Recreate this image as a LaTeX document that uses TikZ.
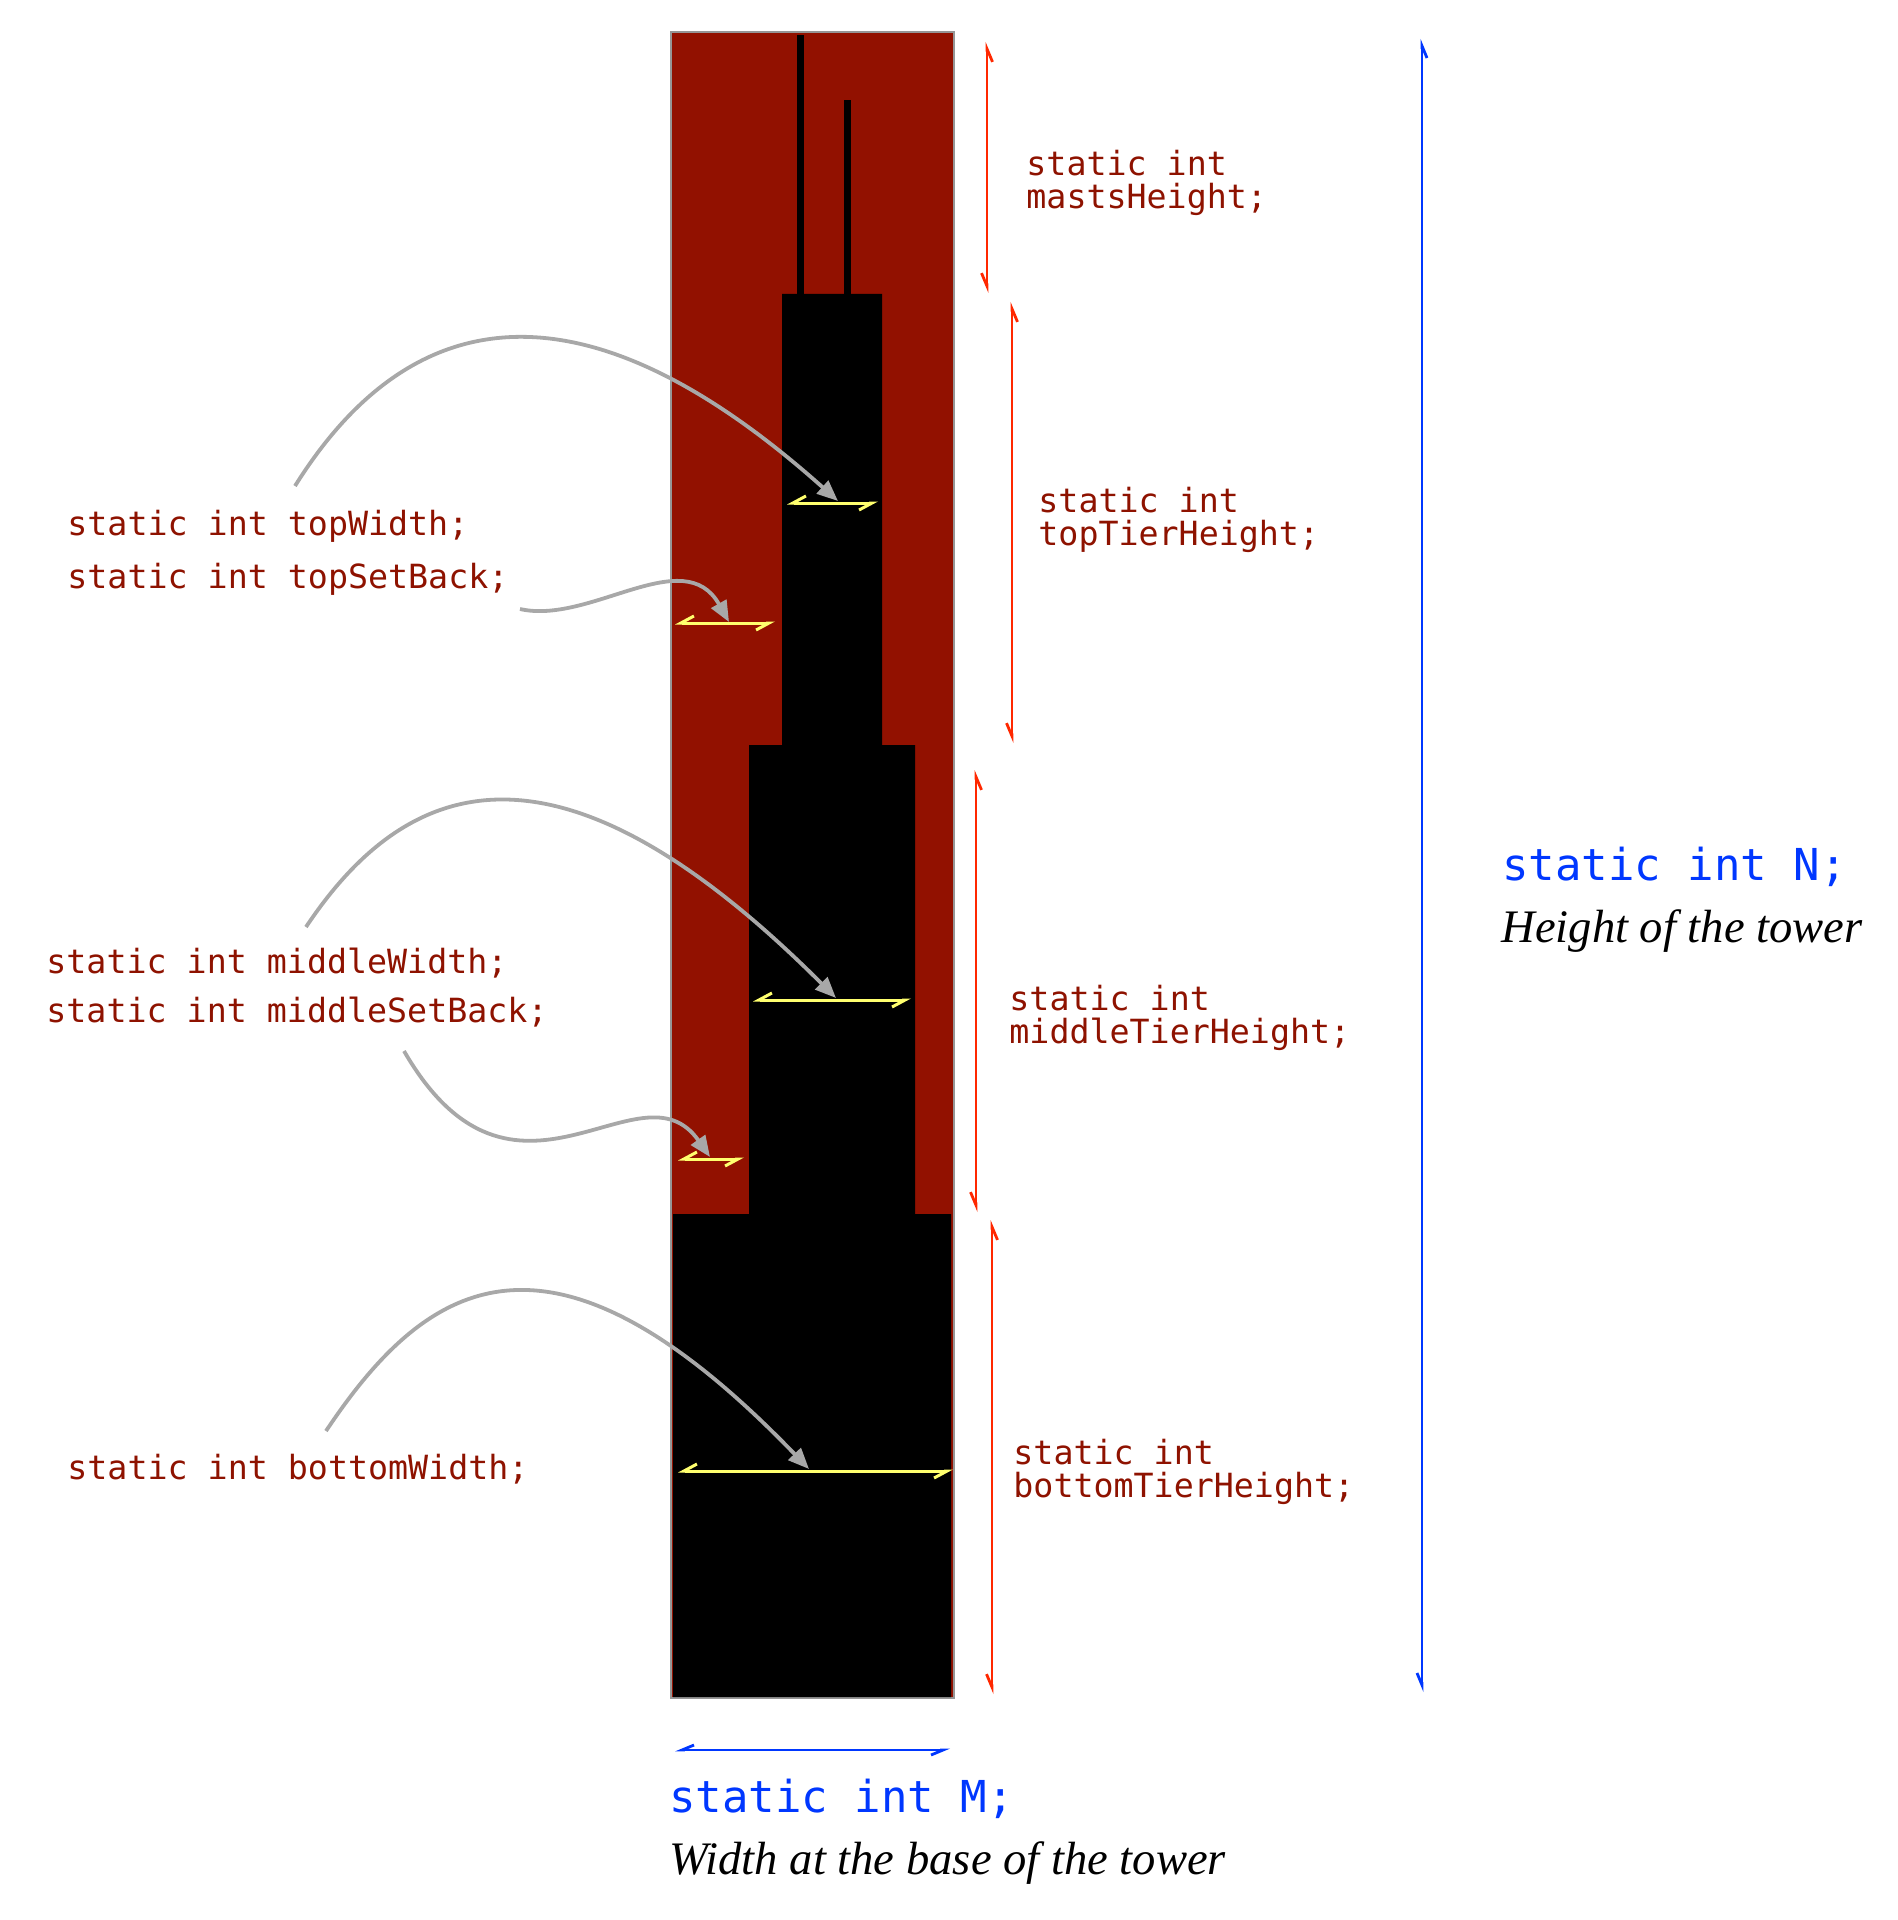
\documentclass[tikz,border=0pt]{standalone}
\usepackage{fontspec}
\setmonofont{DejaVu Sans Mono}
\newfontfamily\notefont{Liberation Serif}
\usetikzlibrary{arrows.meta}

\definecolor{codered}{RGB}{142,18,0}
\definecolor{skyline}{RGB}{146,17,0}
\definecolor{dimred}{RGB}{255,40,0}
\definecolor{dimblue}{RGB}{0,55,255}
\definecolor{markyellow}{RGB}{255,255,110}
\definecolor{pointgray}{RGB}{168,168,168}
\definecolor{framegray}{RGB}{150,150,150}

\begin{document}
\begin{tikzpicture}[x=0.5pt, y=-0.5pt,
    codetext/.style={font=\ttfamily\fontsize{16.65}{16.5}\selectfont, text=codered,
      inner sep=0pt, anchor=base west, align=left},
    bigcode/.style={font=\ttfamily\fontsize{22}{22}\selectfont, text=dimblue,
      inner sep=0pt, anchor=base west},
    note/.style={font=\notefont\itshape\fontsize{23.3}{23.3}\selectfont,
      inner sep=0pt, anchor=base west},
    tierdim/.style={draw=dimred, line width=1.4pt, <->,
      >={Straight Barb[right, length=6.5pt, width=5.5pt]}},
    towerdim/.style={draw=dimblue, line width=1.4pt, <->,
      >={Straight Barb[right, length=6pt, width=5pt]}},
    widthdim/.style={draw=markyellow, line width=1.5pt, <->,
      >={Straight Barb[right, length=6.5pt, width=7pt]}},
    pointer/.style={draw=pointgray, line width=1.9pt,
      -{Triangle[length=10.5pt, width=8.5pt]}}]

  \useasboundingbox (0,0) rectangle (1898,1920);

  % Tower panel
  \draw[framegray, line width=1pt, fill=skyline] (671,32) rectangle (954,1698);
  \fill (673,1697) -- (673,1214) -- (749,1214) -- (749,745) -- (782,745) -- (782,294)
    -- (882,294) -- (882,745) -- (915,745) -- (915,1214) -- (951,1214) -- (951,1697) -- cycle;
  \fill (797,35) rectangle (804,294);
  \fill (844,100) rectangle (851,294);

  % Define nodes
  \node[codetext] (topWidth)         at (67,535)   {static int topWidth;};
  \node[codetext] (topSetBack)       at (67,588)   {static int topSetBack;};
  \node[codetext] (middleWidth)      at (46,973)   {static int middleWidth;};
  \node[codetext] (middleSetBack)    at (46,1022)  {static int middleSetBack;};
  \node[codetext] (bottomWidth)      at (67,1479)  {static int bottomWidth;};

  \node[codetext] (mastsHeight)      at (1026,209)  {static int\\mastsHeight;};
  \node[codetext] (topTierHeight)    at (1038,545)  {static int\\topTierHeight;};
  \node[codetext] (middleTierHeight) at (1009,1043) {static int\\middleTierHeight;};
  \node[codetext] (bottomTierHeight) at (1013,1497) {static int\\bottomTierHeight;};

  \node[bigcode] (towerN)     at (1502,880)  {static int N;};
  \node[note]    (heightNote) at (1501,942)  {Height of the tower};
  \node[bigcode] (baseM)      at (669,1812)  {static int M;};
  \node[note]    (widthNote)  at (669,1874)  {Width at the base of the tower};

  % Dimension ends
  \coordinate (mastTop) at (987,42);    \coordinate (mastBot) at (987,293);
  \coordinate (topTop)  at (1012,302);  \coordinate (topBot)  at (1012,743);
  \coordinate (midTop)  at (976,770);   \coordinate (midBot)  at (976,1212);
  \coordinate (botTop)  at (992,1220);  \coordinate (botBot)  at (992,1694);
  \coordinate (nTop)    at (1422,39);   \coordinate (nBot)    at (1422,1692);
  \coordinate (mLeft)   at (675,1750);  \coordinate (mRight)  at (950,1750);

  \coordinate (twL) at (787,503);  \coordinate (twR) at (878,503);
  \coordinate (tsL) at (675,623);  \coordinate (tsR) at (775,623);
  \coordinate (mwL) at (753,1000); \coordinate (mwR) at (911,1000);
  \coordinate (msL) at (678,1159); \coordinate (msR) at (744,1159);
  \coordinate (bwL) at (678,1471); \coordinate (bwR) at (953,1471);

  \coordinate (twFrom) at (295,486);  \coordinate (twTo) at (838,501);
  \coordinate (tsFrom) at (520,609);  \coordinate (tsTo) at (729,622);
  \coordinate (mwFrom) at (306,927);  \coordinate (mwTo) at (836,998);
  \coordinate (msFrom) at (404,1051); \coordinate (msTo) at (710,1157);
  \coordinate (bwFrom) at (326,1431); \coordinate (bwTo) at (809,1469);

  % Connect the nodes
  \draw[tierdim] (mastTop) -- (mastBot);
  \draw[tierdim] (topTop) -- (topBot);
  \draw[tierdim] (midTop) -- (midBot);
  \draw[tierdim] (botTop) -- (botBot);
  \draw[towerdim] (nTop) -- (nBot);
  \draw[towerdim] (mLeft) -- (mRight);

  \draw[widthdim] (twL) -- (twR);
  \draw[widthdim] (tsL) -- (tsR);
  \draw[widthdim] (mwL) -- (mwR);
  \draw[widthdim] (msL) -- (msR);
  \draw[widthdim] (bwL) -- (bwR);

  \draw[pointer] (twFrom) .. controls +(100,-160) and +(-280,-250) .. (twTo);
  \draw[pointer] (tsFrom) .. controls +(70,16) and +(-45,-80) .. (tsTo);
  \draw[pointer] (mwFrom) .. controls +(100,-150) and +(-280,-280) .. (mwTo);
  \draw[pointer] (msFrom) .. controls +(110,190) and +(-70,-100) .. (msTo);
  \draw[pointer] (bwFrom) .. controls +(100,-150) and +(-260,-270) .. (bwTo);

\end{tikzpicture}
\end{document}
